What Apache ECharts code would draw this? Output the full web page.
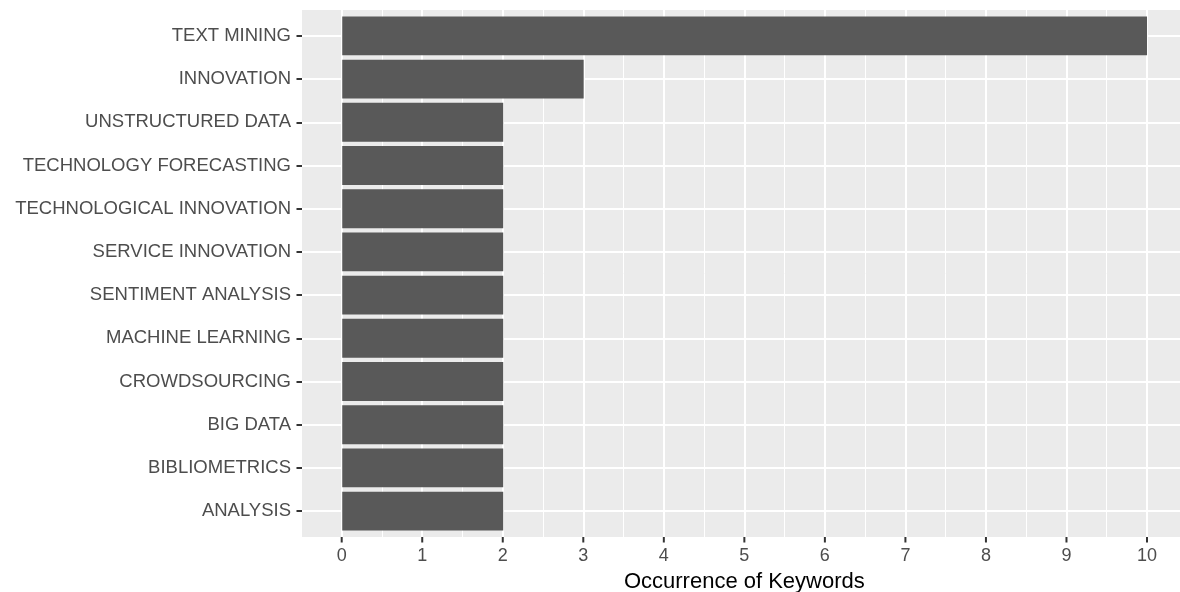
<!DOCTYPE html>
<html><head><meta charset="utf-8">
<script src="https://cdn.jsdelivr.net/npm/echarts@6/dist/echarts.min.js"></script>
<style>html,body{margin:0;padding:0;background:#fff}#c{width:1180px;height:592px}</style>
</head><body><div id="c"></div>
<script>
const categories = ['TEXT MINING','INNOVATION','UNSTRUCTURED DATA','TECHNOLOGY FORECASTING','TECHNOLOGICAL INNOVATION','SERVICE INNOVATION','SENTIMENT ANALYSIS','MACHINE LEARNING','CROWDSOURCING','BIG DATA','BIBLIOMETRICS','ANALYSIS'];
const occurrences = [10,3,2,2,2,2,2,2,2,2,2,2];
const xTicks = [0,1,2,3,4,5,6,7,8,9,10];
const xTitle = 'Occurrence of Keywords';

const FONT = 'Liberation Sans, Arial, sans-serif';
const panelLeft = 302, panelTop = 10, panelH = 527;
const unitPx = 80.53, x0 = 341.7;
const tickLen = 5.5;
const band = panelH / (categories.length - 1 + 1.2);
const chart = echarts.init(document.getElementById('c'), null, {renderer:'canvas'});
const gridBase = {outerBoundsMode:'none', containLabel:false, borderWidth:0};
chart.setOption({
  animation:false,
  backgroundColor:'#fff',
  grid:[
    Object.assign({left:panelLeft, top:panelTop, right:0, height:panelH, show:true, backgroundColor:'#EBEBEB', z:0}, gridBase),
    Object.assign({left:x0, top:panelTop, width:unitPx*10, height:panelH, z:1}, gridBase),
    Object.assign({left:panelLeft, top:panelTop+0.6*band, right:0, height:(categories.length-1)*band, z:1}, gridBase),
    Object.assign({left:panelLeft, top:panelTop+0.1*band, right:0, height:categories.length*band, z:2}, gridBase),
    Object.assign({left:x0, top:panelTop, width:unitPx*10, height:panelH, z:3}, gridBase)
  ],
  xAxis:[
    {gridIndex:0, type:'value', min:-0.5, max:(1180-x0)/unitPx, show:false},
    {gridIndex:1, type:'value', min:0, max:10, interval:1,
      axisLine:{show:false}, axisTick:{show:false}, axisLabel:{show:false},
      splitLine:{show:true, lineStyle:{color:'#FFFFFF', width:2}},
      minorTick:{show:false, splitNumber:2},
      minorSplitLine:{show:true, lineStyle:{color:'#FFFFFF', width:1}}},
    {gridIndex:2, type:'value', show:false},
    {gridIndex:3, type:'value', min:-0.5, max:(1180-x0)/unitPx, show:false},
    {gridIndex:4, type:'category', data:xTicks, boundaryGap:false, position:'bottom',
      axisLine:{show:false, onZero:false},
      axisTick:{show:false},
      axisLabel:{show:true, margin:10, interval:0, fontFamily:FONT, fontSize:18, color:'#4D4D4D'},
      splitLine:{show:false},
      name:xTitle, nameLocation:'middle', nameGap:34,
      nameTextStyle:{fontFamily:FONT, fontSize:22, color:'#000'}}
  ],
  yAxis:[
    {gridIndex:0, type:'value', show:false},
    {gridIndex:1, type:'value', min:0, max:1, show:false},
    {gridIndex:2, type:'category', data:categories, boundaryGap:false, inverse:true, z:1,
      axisLine:{show:false}, axisTick:{show:false}, axisLabel:{show:false},
      splitLine:{show:true, lineStyle:{color:'#FFFFFF', width:2}}},
    {gridIndex:3, type:'category', data:categories, inverse:true, z:3, position:'left',
      axisLine:{show:false, onZero:false},
      axisTick:{show:true, alignWithLabel:true, length:5.5, lineStyle:{color:'#333333', width:2}},
      axisLabel:{show:true, margin:11, fontFamily:FONT, fontSize:18.5, color:'#4D4D4D'},
      splitLine:{show:false}},
    {gridIndex:4, type:'value', min:0, max:1, show:false}
  ],
  series:[
    {
      type:'bar', xAxisIndex:3, yAxisIndex:3, data:occurrences,
      barWidth:'90%', itemStyle:{color:'#595959'}, z:3, silent:true
    },
    {
      type:'custom', xAxisIndex:1, yAxisIndex:1, silent:true, clip:false, z:10,
      data:xTicks.map(v=>[v]),
      encode:{x:0},
      renderItem:(params, api)=>{
        const p = api.coord([api.value(0), 0]);
        return {type:'line', shape:{x1:p[0], y1:p[1], x2:p[0], y2:p[1]+tickLen},
          style:{stroke:'#333333', lineWidth:2}};
      }
    }
  ]
});
</script></body></html>
